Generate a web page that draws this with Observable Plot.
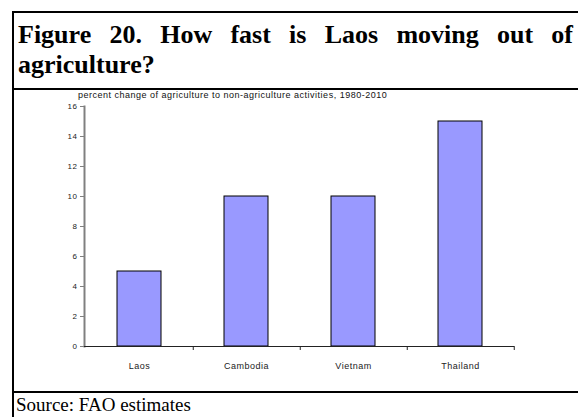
<!DOCTYPE html>
<html>
<head>
<meta charset="utf-8">
<script src="https://cdn.jsdelivr.net/npm/d3@7"></script>
<script src="https://cdn.jsdelivr.net/npm/@observablehq/plot@0.6"></script>
<style>
  html, body { margin: 0; padding: 0; background: #fff; width: 578px; height: 417px; overflow: hidden; }
  .abs { position: absolute; }
  #border { left: 12px; top: 11px; width: 620px; height: 420px; border-left: 2px solid #000; border-top: 2px solid #000; }
  .hline { height: 2px; background: #000; left: 12px; width: 620px; }
  #title { left: 18px; top: 20px; width: 555px; font: bold 26px "Liberation Serif", "Times New Roman", serif; line-height: 30px; text-align: justify; color: #000; }
  #subtitle { left: 78px; top: 90px; font: 9px "Liberation Sans", Arial, sans-serif; letter-spacing: 0.5px; color: #111; white-space: nowrap; }
  #chart { left: 15px; top: 77px; }
  #source { left: 16px; top: 394px; font: 19px "Liberation Serif", "Times New Roman", serif; color: #000; white-space: nowrap; }
  #chart svg text { letter-spacing: 0.5px; }
</style>
</head>
<body>
<div id="border" class="abs"></div>
<div id="title" class="abs">Figure 20. How fast is Laos moving out of agriculture?</div>
<div class="abs hline" style="top:88px"></div>
<div id="chart" class="abs"></div>
<div id="subtitle" class="abs">percent change of agriculture to non-agriculture activities, 1980-2010</div>
<div class="abs hline" style="top:391px"></div>
<div id="source" class="abs">Source: FAO estimates</div>
<script>
const categories = ["Laos", "Cambodia", "Vietnam", "Thailand"];
const values = [5, 10, 10, 15];
const yTicks = [0, 2, 4, 6, 8, 10, 12, 14, 16];

const data = categories.map((c, i) => ({category: c, value: values[i]}));

const W = 563, H = 313;
const mL = 69, mR = 64, mT = 29, mB = 44;
const step = (W - mL - mR) / categories.length;
const pad = 0.59;

const chart = Plot.plot({
  width: W,
  height: H,
  marginTop: mT,
  marginBottom: mB,
  marginLeft: mL,
  marginRight: mR,
  style: {fontFamily: "'Liberation Sans', Arial, sans-serif", background: "transparent", overflow: "visible"},
  x: {domain: categories, paddingInner: pad, paddingOuter: pad / 2, axis: null},
  y: {domain: [0, 16], axis: null},
  marks: [
    Plot.barY(data, {x: "category", y: "value", fill: "#9999FF", stroke: "#000", strokeWidth: 1}),
    Plot.frame({anchor: "left", stroke: "#808080", strokeWidth: 2}),
    Plot.axisY({ticks: yTicks, tickSize: 4, tickPadding: 3, tickFormat: d => d, fontSize: 8, stroke: "#808080", fill: "#222", label: null}),
    Plot.ruleY([0], {stroke: "#222", strokeWidth: 1}),
    Plot.axisX({tickSize: 4, text: null, dx: step / 2, stroke: "#222", label: null}),
    Plot.axisX({tickSize: 0, tickPadding: 16, fontSize: 9, fill: "#222", label: null})
  ]
});
document.getElementById("chart").appendChild(chart);
</script>
</body>
</html>
